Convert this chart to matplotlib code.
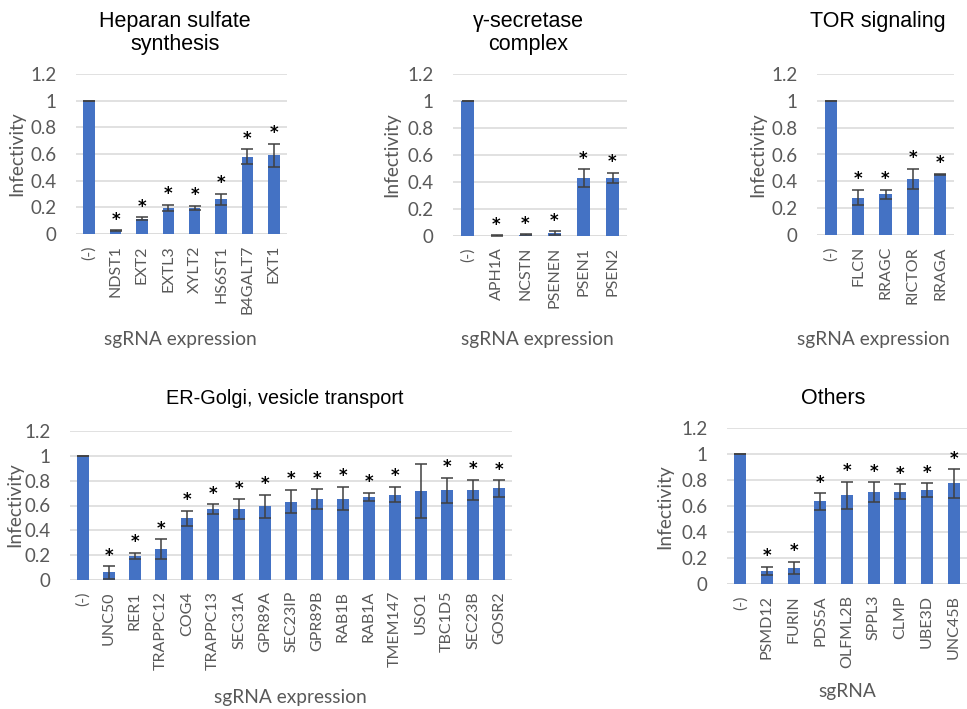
import matplotlib
matplotlib.use("Agg")
import matplotlib.pyplot as plt
import numpy as np

# ---------------- data ----------------
hs_genes = ['(-)', 'NDST1', 'EXT2', 'EXTL3', 'XYLT2', 'HS6ST1', 'B4GALT7', 'EXT1']
hs_mean = [1.0, 0.025, 0.115, 0.195, 0.195, 0.26, 0.58, 0.59]
hs_err = [0.0, 0.003, 0.012, 0.025, 0.018, 0.04, 0.055, 0.085]
hs_sig = [0, 1, 1, 1, 1, 1, 1, 1]

gs_genes = ['(-)', 'APH1A', 'NCSTN', 'PSENEN', 'PSEN1', 'PSEN2']
gs_mean = [1.0, 0.003, 0.01, 0.02, 0.427, 0.432]
gs_err = [0.0, 0.002, 0.004, 0.015, 0.067, 0.037]
gs_sig = [0, 1, 1, 1, 1, 1]

tor_genes = ['(-)', 'FLCN', 'RRAGC', 'RICTOR', 'RRAGA']
tor_mean = [1.0, 0.279, 0.303, 0.42, 0.453]
tor_err = [0.0, 0.056, 0.034, 0.075, 0.003]
tor_sig = [0, 1, 1, 1, 1]

er_genes = ['(-)', 'UNC50', 'RER1', 'TRAPPC12', 'COG4', 'TRAPPC13', 'SEC31A', 'GPR89A',
            'SEC23IP', 'GPR89B', 'RAB1B', 'RAB1A', 'TMEM147', 'USO1', 'TBC1D5', 'SEC23B', 'GOSR2']
er_mean = [1.0, 0.062, 0.194, 0.247, 0.497, 0.57, 0.573, 0.594, 0.632, 0.65, 0.656,
           0.669, 0.688, 0.718, 0.723, 0.728, 0.737]
er_err = [0.0, 0.05, 0.025, 0.08, 0.062, 0.04, 0.078, 0.094, 0.094, 0.08, 0.095,
          0.034, 0.063, 0.215, 0.1, 0.08, 0.067]
er_sig = [0, 1, 1, 1, 1, 1, 1, 1, 1, 1, 1, 1, 1, 0, 1, 1, 1]

ot_genes = ['(-)', 'PSMD12', 'FURIN', 'PDS5A', 'OLFML2B', 'SPPL3', 'CLMP', 'UBE3D', 'UNC45B']
ot_mean = [1.0, 0.1, 0.123, 0.635, 0.681, 0.707, 0.709, 0.72, 0.774]
ot_err = [0.0, 0.033, 0.047, 0.064, 0.104, 0.077, 0.057, 0.054, 0.11]
ot_sig = [0, 1, 1, 1, 1, 1, 1, 1, 1]

yticks = [0, 0.2, 0.4, 0.6, 0.8, 1.0, 1.2]
ytick_labels = ['0', '0.2', '0.4', '0.6', '0.8', '1', '1.2']

# ---------------- style ----------------
W, H = 967, 709
BAR = '#4472C4'
GRID = '#D9D9D9'
TXT = '#595959'
ERR = '#404040'
AXFONT = 'Lato'
TFONT = 'Liberation Sans'

fig = plt.figure(figsize=(W / 100, H / 100), dpi=100)


def px_axes(x0, x1, ytop, ybot):
    return fig.add_axes([x0 / W, 1 - ybot / H, (x1 - x0) / W, (ybot - ytop) / H])


def panel(ax, genes, mean, err, sig):
    x = np.arange(len(genes))
    ax.set_axisbelow(True)
    for t in yticks[1:]:
        ax.axhline(t, color=GRID, lw=1.1, zorder=0)
    ax.axhline(0, color=GRID, lw=1.3, zorder=0)
    ax.bar(x, mean, width=0.44, color=BAR, zorder=2)
    ax.errorbar(x, mean, yerr=err, fmt='none', ecolor=ERR, elinewidth=1.1,
                capsize=4.3, capthick=1.1, zorder=3)
    for i in range(len(genes)):
        if sig[i]:
            ax.annotate('*', xy=(x[i], mean[i] + err[i]), xytext=(0, 4),
                        textcoords='offset points', ha='center', va='baseline',
                        fontsize=12, fontweight='bold', color='black',
                        family='DejaVu Sans')
    ax.set_xlim(-0.5, len(genes) - 0.5)
    ax.set_ylim(0, 1.2)
    ax.set_yticks(yticks)
    ax.set_yticklabels(ytick_labels, family=AXFONT, fontsize=13.5, color=TXT)
    ax.set_xticks(x)
    ax.set_xticklabels(genes, rotation=90, family=AXFONT, fontsize=11.5, color=TXT)
    ax.tick_params(axis='both', length=0)
    ax.tick_params(axis='y', pad=14)
    ax.tick_params(axis='x', pad=8)
    for s in ax.spines.values():
        s.set_visible(False)


def ftext(x, y, s, **kw):
    fig.text(x / W, 1 - y / H, s, ha='center', va='center', **kw)


TS = 15.5
LS = 13.8

# Panel 1
ax1 = px_axes(76, 287, 74, 234)
panel(ax1, hs_genes, hs_mean, hs_err, hs_sig)
ftext(175, 33, 'Heparan sulfate\nsynthesis', family=TFONT, fontsize=TS, linespacing=1.15)
ftext(17, 154, 'Infectivity', rotation=90, family=AXFONT, fontsize=LS, color=TXT)
ftext(180, 340, 'sgRNA expression', family=AXFONT, fontsize=LS, color=TXT)

# Panel 2
ax2 = px_axes(453, 627, 74, 236)
panel(ax2, gs_genes, gs_mean, gs_err, gs_sig)
ftext(528, 33, '\u03b3-secretase\ncomplex', family=TFONT, fontsize=TS, linespacing=1.15)
ftext(392, 155, 'Infectivity', rotation=90, family=AXFONT, fontsize=LS, color=TXT)
ftext(537, 340, 'sgRNA expression', family=AXFONT, fontsize=LS, color=TXT)

# Panel 3
ax3 = px_axes(817, 954, 74, 235)
panel(ax3, tor_genes, tor_mean, tor_err, tor_sig)
ftext(878, 21, 'TOR signaling', family=TFONT, fontsize=TS)
ftext(758, 155, 'Infectivity', rotation=90, family=AXFONT, fontsize=LS, color=TXT)
ftext(873, 340, 'sgRNA expression', family=AXFONT, fontsize=LS, color=TXT)

# Panel 4
ax4 = px_axes(70, 512, 431, 580)
panel(ax4, er_genes, er_mean, er_err, er_sig)
ftext(285, 398, 'ER-Golgi, vesicle transport', family=TFONT, fontsize=14.3)
ftext(15, 505, 'Infectivity', rotation=90, family=AXFONT, fontsize=LS, color=TXT)
ftext(290, 697, 'sgRNA expression', family=AXFONT, fontsize=LS, color=TXT)

# Panel 5
ax5 = px_axes(727, 967, 428, 584)
panel(ax5, ot_genes, ot_mean, ot_err, ot_sig)
ftext(833, 398, 'Others', family=TFONT, fontsize=TS)
ftext(665, 507, 'Infectivity', rotation=90, family=AXFONT, fontsize=LS, color=TXT)
ftext(847, 692, 'sgRNA', family=AXFONT, fontsize=LS, color=TXT)

fig.savefig('out.png', dpi=100, facecolor='white')
